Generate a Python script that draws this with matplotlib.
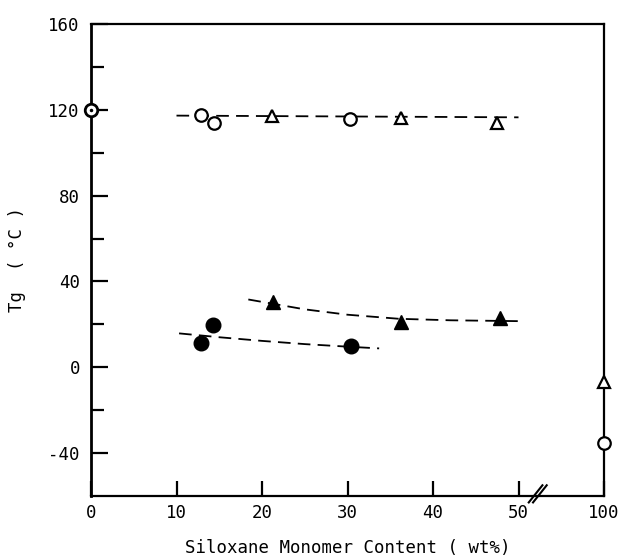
import matplotlib
matplotlib.use("Agg")
import matplotlib.pyplot as plt
import numpy as np

# ---- data (x in wt%, y in degC) ----
open_circle_x = [12.9, 14.4, 30.3]
open_circle_y = [117.5, 114.0, 115.5]
open_tri_x = [21.2, 36.2, 47.5]
open_tri_y = [117.0, 116.0, 114.0]
homo_x = [0.0]          # homopolymer (circled dot)
homo_y = [120.0]
filled_circle_x = [12.9, 14.3, 30.4]
filled_circle_y = [11.2, 19.5, 9.8]
filled_tri_x = [21.3, 36.3, 47.8]
filled_tri_y = [30.2, 21.0, 22.8]
pure_x = [100.0, 100.0]
pure_y = [-7.0, -35.5]
pure_markers = ['^', 'o']

# trend (dashed) lines
upper_line_x = [10.0, 50.0]
upper_line_y = [117.3, 116.5]
fc_line_x = [10.3, 15.0, 20.0, 25.0, 30.0, 33.7]
fc_line_y = [15.8, 14.0, 12.3, 10.8, 9.6, 8.8]
ft_line_x = [18.4, 25.0, 30.0, 36.0, 42.0, 50.1]
ft_line_y = [31.6, 27.0, 24.5, 22.6, 21.9, 21.5]

xtick_vals = [0, 10, 20, 30, 40, 50, 100]
xtick_labels = ['0', '10', '20', '30', '40', '50', '100']
ytick_major = [-40, 0, 40, 80, 120, 160]
ytick_minor = [-20, 20, 60, 100, 140]


def xmap(x):
    x = np.asarray(x, dtype=float)
    return np.where(x <= 50, x, 50 + (x - 50) * 10.0 / 50.0)


FONT = 'DejaVu Sans Mono'
plt.rcParams['font.family'] = [FONT]

fig = plt.figure(figsize=(6.21, 5.59), dpi=100)
ax = fig.add_axes([91 / 621, 1 - 496 / 559, (604 - 91) / 621, (496 - 24) / 559])
ax.set_xlim(0, 60)
ax.set_ylim(-60, 160)

dash = dict(color='black', lw=1.3, dashes=[7, 4])
ax.plot(xmap(upper_line_x), upper_line_y, **dash, zorder=2)
ax.plot(xmap(fc_line_x), fc_line_y, **dash, zorder=2)
ax.plot(xmap(ft_line_x), ft_line_y, **dash, zorder=2)

ax.plot(xmap(open_circle_x), open_circle_y, 'o', ms=9, mfc='white', mec='black', mew=1.6, ls='none', zorder=3)
ax.plot(xmap(open_tri_x), open_tri_y, '^', ms=8, mfc='white', mec='black', mew=1.6, ls='none', zorder=3)
ax.plot(xmap(filled_circle_x), filled_circle_y, 'o', ms=10.5, color='black', ls='none', zorder=3)
ax.plot(xmap(filled_tri_x), filled_tri_y, '^', ms=9.5, color='black', ls='none', zorder=3)

ax.plot(xmap(homo_x), homo_y, 'o', ms=9, mfc='white', mec='black', mew=2.0, ls='none', zorder=4, clip_on=False)
ax.plot(xmap(homo_x), homo_y, '.', ms=3, color='black', ls='none', zorder=5, clip_on=False)
for xv, yv, m in zip(pure_x, pure_y, pure_markers):
    ax.plot(xmap([xv]), [yv], m, ms=9 if m == 'o' else 8.5, mfc='white', mec='black', mew=1.6,
            ls='none', zorder=4, clip_on=False)

# spines
for s in ['left', 'right', 'top', 'bottom']:
    ax.spines[s].set_linewidth(1.6)
ax.spines['left'].set_linewidth(2.0)

# ticks
ax.set_xticks(xmap(xtick_vals))
ax.set_xticklabels(xtick_labels)
ax.set_yticks(ytick_major)
ax.set_yticklabels([str(v) for v in ytick_major])
ax.set_yticks(ytick_minor, minor=True)
ax.tick_params(axis='y', which='major', direction='in', length=12, width=1.6, pad=8, labelsize=12.5)
ax.tick_params(axis='y', which='minor', direction='in', length=9, width=1.6)
ax.tick_params(axis='x', which='major', direction='in', length=11, width=1.6, pad=6, labelsize=12.5)

# axis break marks
for dx in (0.0, 0.5):
    ax.plot([51.2 + dx, 52.8 + dx], [-63.0, -55.0], color='black', lw=1.5, clip_on=False, zorder=6)

ax.set_xlabel('Siloxane Monomer Content ( wt%)', fontsize=12.5, labelpad=12)
ax.set_ylabel('Tg  ( °C )', fontsize=12.5, labelpad=16)

fig.savefig('out.png', dpi=100)
